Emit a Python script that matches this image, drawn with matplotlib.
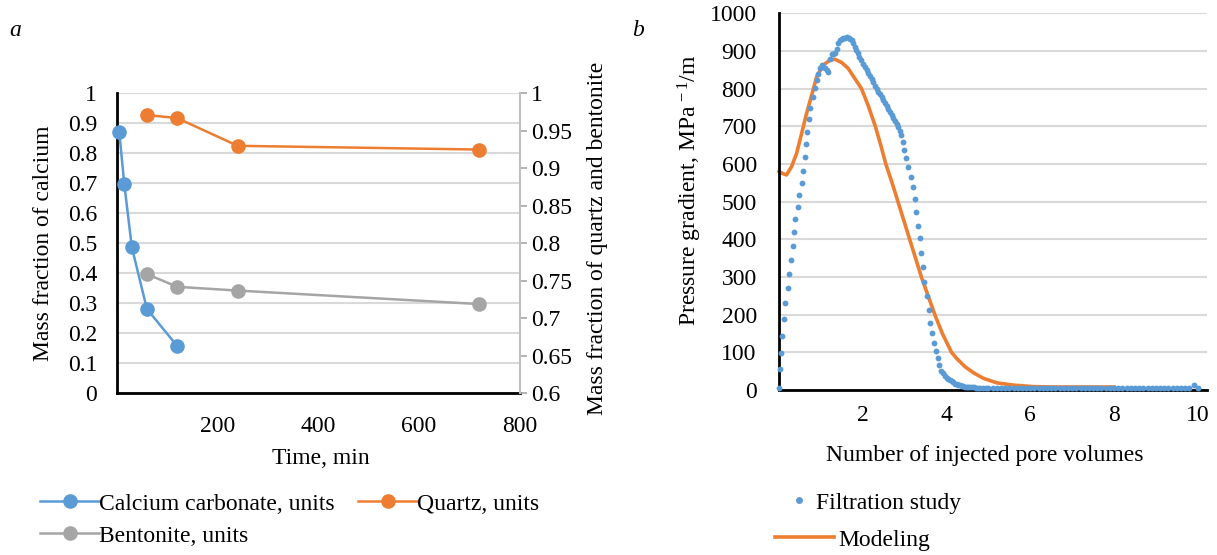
import matplotlib
matplotlib.use("Agg")
import matplotlib.pyplot as plt
from matplotlib.lines import Line2D

plt.rcParams['font.family'] = ['Liberation Serif', 'DejaVu Serif']
plt.rcParams['mathtext.fontset'] = 'custom'
plt.rcParams['mathtext.rm'] = 'Liberation Serif'
plt.rcParams['mathtext.it'] = 'Liberation Serif:italic'

# ---- panel a data ----
time_calc = [5, 15, 30, 60, 120]
calcium = [0.872, 0.698, 0.487, 0.281, 0.158]
time_qb = [60, 120, 240, 720]
quartz = [0.971, 0.967, 0.930, 0.925]
bentonite = [0.759, 0.742, 0.737, 0.719]

# ---- panel b data ----
filt_x = [0.00, 0.03, 0.05, 0.07, 0.12, 0.15, 0.21, 0.24, 0.28, 0.33, 0.36, 0.39, 0.45,
          0.48, 0.54, 0.57, 0.61, 0.64, 0.68, 0.71, 0.75, 0.80, 0.86, 0.90, 0.94,
          0.98, 1.02, 1.06, 1.10, 1.14, 1.18, 1.22, 1.26, 1.30, 1.34, 1.38, 1.42, 1.46,
          1.50, 1.54, 1.58, 1.62, 1.66, 1.70, 1.74, 1.77, 1.81, 1.85, 1.88, 1.92, 1.96,
          2.01, 2.05, 2.09, 2.13, 2.17, 2.21, 2.25, 2.29, 2.33, 2.37, 2.41, 2.45, 2.49,
          2.53, 2.57, 2.61, 2.65, 2.69, 2.73, 2.77, 2.81, 2.85, 2.88, 2.91, 2.95, 2.99,
          3.04, 3.09, 3.15, 3.20, 3.24, 3.27, 3.32, 3.37, 3.39, 3.44, 3.47, 3.53, 3.58,
          3.60, 3.66, 3.70, 3.75, 3.79, 3.83, 3.88, 3.92, 3.96, 4.00, 4.04, 4.08, 4.12,
          4.16, 4.20, 4.24, 4.28, 4.32, 4.36, 4.40, 4.44, 4.48, 4.52, 4.56, 4.60, 4.65,
          4.70, 4.75, 4.80, 4.88, 4.95,
          5.0, 5.1, 5.2, 5.3, 5.4, 5.5, 5.6, 5.7, 5.8, 5.9, 6.0, 6.1, 6.2, 6.3, 6.4,
          6.5, 6.6, 6.7, 6.8, 6.9, 7.0, 7.1, 7.2, 7.3, 7.4, 7.5, 7.6, 7.7, 7.8, 7.9,
          8.0, 8.1, 8.2, 8.3, 8.4, 8.5, 8.6, 8.7, 8.8, 8.9, 9.0, 9.1, 9.2, 9.3, 9.4,
          9.5, 9.6, 9.7, 9.8, 9.9, 10.0]
filt_y = [6, 55, 99, 143, 188, 232, 272, 307, 344, 381, 419, 453, 487,
          519, 550, 582, 618, 653, 686, 719, 749, 777, 801, 823, 840,
          856, 863, 858, 855, 850, 845, 880, 891, 893, 895, 905, 920, 928,
          932, 934, 935, 936, 935, 932, 929, 920, 911, 903, 894, 885, 875,
          865, 857, 849, 841, 833, 825, 817, 808, 800, 792, 785, 777, 770,
          762, 754, 746, 738, 731, 723, 715, 707, 699, 688, 677, 659, 637,
          615, 593, 566, 538, 508, 473, 435, 403, 365, 327, 286, 250, 212,
          179, 150, 126, 104, 84, 66, 51, 44, 37, 33, 30, 27, 23,
          20, 17, 15, 13, 12, 11, 10, 9, 9, 8, 8, 7, 7,
          6, 6, 6, 6, 5,
          5, 5, 5, 5, 5, 5, 5, 5, 4, 4, 4, 4, 4, 4, 4,
          4, 4, 4, 4, 4, 4, 4, 4, 4, 4, 4, 4, 4, 4, 4,
          4, 4, 4, 4, 4, 4, 4, 4, 4, 4, 4, 4, 4, 4, 4,
          4, 4, 4, 5, 14, 5]

model_x = [0.00, 0.08, 0.18, 0.30, 0.42, 0.54, 0.66, 0.78, 0.90, 1.06, 1.22, 1.34,
           1.50, 1.65, 1.81, 1.97, 2.13, 2.30, 2.43, 2.55, 2.70, 2.84, 2.98, 3.12,
           3.26, 3.40, 3.56, 3.72, 3.90, 4.12, 4.24, 4.44, 4.64, 4.88, 5.20, 5.59,
           6.07, 6.50, 7.00, 7.50, 8.00]
model_y = [580, 575, 571, 593, 628, 681, 735, 783, 832, 863, 876, 878,
           869, 854, 827, 800, 755, 700, 650, 600, 550, 500, 450, 400,
           350, 300, 250, 200, 150, 100, 84, 62, 46, 31, 19, 13,
           9, 8, 8, 8, 8]

BLUE = '#5B9BD5'
ORANGE = '#ED7D31'
GRAY = '#A5A5A5'
GRID = '#D9D9D9'
FS = 17

fig = plt.figure(figsize=(12.17, 5.55), dpi=100)

# ---------------- panel a ----------------
ax1 = fig.add_axes([0.0959, 0.2913, 0.3311, 0.5406])
ax2 = ax1.twinx()

ax1.set_xlim(0, 800)
ax1.set_ylim(0, 1)
ax1.set_yticks([i / 10 for i in range(11)])
ax1.set_yticklabels(['0', '0.1', '0.2', '0.3', '0.4', '0.5', '0.6', '0.7', '0.8', '0.9', '1'])
ax1.set_xticks([200, 400, 600, 800])
ax1.tick_params(axis='x', length=0, pad=16, labelsize=FS)
ax1.tick_params(axis='y', length=0, pad=14, labelsize=FS)
ax1.grid(axis='y', color=GRID, linewidth=1.5)
ax1.set_axisbelow(True)
for s in ['top', 'right']:
    ax1.spines[s].set_visible(False)
ax1.spines['left'].set_linewidth(2)
ax1.spines['bottom'].set_linewidth(2)

ax2.set_ylim(0.6, 1.0)
ax2.set_yticks([0.6, 0.65, 0.7, 0.75, 0.8, 0.85, 0.9, 0.95, 1.0])
ax2.set_yticklabels(['0.6', '0.65', '0.7', '0.75', '0.8', '0.85', '0.9', '0.95', '1'])
ax2.tick_params(axis='y', length=5, width=1.2, color=GRAY, pad=3, labelsize=FS)
for s in ['top', 'left', 'bottom']:
    ax2.spines[s].set_visible(False)
ax2.spines['right'].set_color('#BFBFBF')
ax2.spines['right'].set_linewidth(1.5)

l_calc, = ax1.plot(time_calc, calcium, color=BLUE, lw=1.8, marker='o', ms=9.5,
                   clip_on=False, zorder=3)
l_quartz, = ax2.plot(time_qb, quartz, color=ORANGE, lw=1.8, marker='o', ms=9.5,
                     clip_on=False, zorder=3)
l_bent, = ax2.plot(time_qb, bentonite, color=GRAY, lw=1.8, marker='o', ms=9.5,
                   clip_on=False, zorder=3)

fig.text(321 / 1217, 1 - 458 / 555, 'Time, min', ha='center', va='center', fontsize=FS)
fig.text(44 / 1217, 1 - 243 / 555, 'Mass fraction of calcium', rotation=90,
         ha='center', va='center', fontsize=FS)
fig.text(597 / 1217, 1 - 238 / 555, 'Mass fraction of quartz and bentonite', rotation=90,
         ha='center', va='center', fontsize=FS)
fig.text(15 / 1217, 1 - 30 / 555, 'a', style='italic', ha='center', va='center', fontsize=FS)

fig.legend([l_calc, l_bent, l_quartz],
           ['Calcium carbonate, units', 'Bentonite, units', 'Quartz, units'],
           ncol=2, loc='upper left', bbox_to_anchor=(40 / 1217, 1 - 493 / 555),
           frameon=False, fontsize=FS, handlelength=2.5, handletextpad=0.0,
           columnspacing=1.0, labelspacing=0.45, borderpad=0, borderaxespad=0)

# ---------------- panel b ----------------
ax3 = fig.add_axes([0.6401, 0.2973, 0.3517, 0.6787])
ax3.set_xlim(0, 10.22)
ax3.set_ylim(0, 1000)
ax3.set_xticks([2, 4, 6, 8, 10])
ax3.set_yticks(list(range(0, 1001, 100)))
ax3.tick_params(axis='x', length=0, pad=11, labelsize=FS)
ax3.tick_params(axis='y', length=0, pad=16, labelsize=FS)
ax3.grid(axis='y', color=GRID, linewidth=1.5)
ax3.set_axisbelow(True)
for s in ['top', 'right']:
    ax3.spines[s].set_visible(False)
ax3.spines['left'].set_linewidth(2)
ax3.spines['bottom'].set_linewidth(2)

l_model, = ax3.plot(model_x, model_y, color=ORANGE, lw=2.6, zorder=2, clip_on=False)
l_filt, = ax3.plot(filt_x, filt_y, linestyle='none', marker='o', ms=4.2, color=BLUE,
                   markeredgewidth=0, zorder=3, clip_on=False)

fig.text(985 / 1217, 1 - 456 / 555, 'Number of injected pore volumes', ha='center',
         va='center', fontsize=FS)
fig.text(690 / 1217, 1 - 190 / 555, r'Pressure gradient, MPa$^{\,-1}$/m', rotation=90,
         ha='center', va='center', fontsize=FS)
fig.text(638 / 1217, 1 - 30 / 555, 'b', style='italic', ha='center', va='center', fontsize=FS)

filt_handle = Line2D([], [], linestyle='none', marker='o', ms=5, color=BLUE, markeredgewidth=0)
fig.legend([filt_handle], ['Filtration study'], loc='upper left',
           bbox_to_anchor=(790 / 1217, 1 - 492 / 555), frameon=False, fontsize=FS,
           handlelength=0.8, handletextpad=0.3, borderpad=0, borderaxespad=0)
fig.legend([l_model], ['Modeling'], loc='upper left',
           bbox_to_anchor=(775 / 1217, 1 - 529 / 555), frameon=False, fontsize=FS,
           handlelength=2.5, handletextpad=0.2, borderpad=0, borderaxespad=0)

fig.savefig('out.png', dpi=100, facecolor='white')
